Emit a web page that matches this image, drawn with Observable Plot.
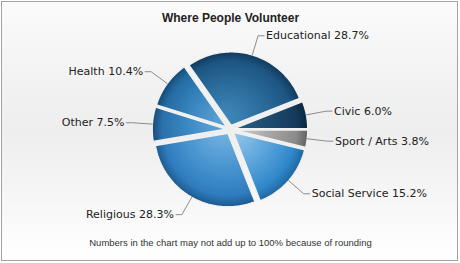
<!DOCTYPE html>
<html><head><meta charset="utf-8">
<script src="https://cdn.jsdelivr.net/npm/d3@7"></script>
<script src="https://cdn.jsdelivr.net/npm/@observablehq/plot@0.6"></script>
<style>
html,body{margin:0;padding:0;background:#fff;}
#wrap{position:relative;width:460px;height:263px;overflow:hidden;}
#frame{position:absolute;left:1px;top:1px;width:455px;height:258px;border:1px solid #a3a3a3;
  background:linear-gradient(to bottom,#fbfbfb 0%,#f1f1f1 35%,#eeeeee 50%,#f6f6f6 75%,#ffffff 100%);}
#chart{position:absolute;left:0;top:0;}
#chart svg{background:transparent;}
</style></head><body>
<div id="wrap"><div id="frame"></div><div id="chart"></div></div>
<script>
// ---- data (clockwise from 3 o'clock) ----
const title = "Where People Volunteer";
const caption = "Numbers in the chart may not add up to 100% because of rounding";
const categories = ["Sport / Arts", "Social Service", "Religious", "Other", "Health", "Educational", "Civic"];
const values = [3.8, 15.2, 28.3, 7.5, 10.4, 28.7, 6.0];

// ---- styles ----
const lightColors = ["#dcdcdc", "#a8d2ef", "#7cb8e4", "#62a5d8", "#5ca2d4", "#4089bb", "#2c628c"];
const midColors   = ["#a9a9a9", "#62a8dd", "#4b96d1", "#3b87c2", "#3784bd", "#2b6c9c", "#1e4c71"];
const baseColors  = ["#8a8a8a", "#3088ca", "#2f7cbe", "#2a70a9", "#246ba1", "#1d5582", "#153b5c"];
const darkColors  = ["#626262", "#1f67a1", "#1c5a8f", "#174c78", "#154a75", "#10395a", "#0b2640"];

const W = 460, H = 263, CX = 229.5, CY = 129;
const R = 73.5, EXPLODE = 4.3, LEADER = 20, TAIL = 6, GAP = 2;

const arcs = d3.pie().sort(null).startAngle(Math.PI / 2).endAngle(Math.PI / 2 + 2 * Math.PI)(values);

const slices = arcs.map((a, i) => {
  const m = (a.startAngle + a.endAngle) / 2;
  const dx = Math.sin(m), dy = -Math.cos(m);
  const ox = EXPLODE * dx, oy = EXPLODE * dy;
  const n = Math.max(2, Math.ceil((a.endAngle - a.startAngle) / (Math.PI / 180)));
  const pts = [{x: ox, y: oy}];
  for (let j = 0; j <= n; j++) {
    const t = a.startAngle + (a.endAngle - a.startAngle) * j / n;
    pts.push({x: ox + R * Math.sin(t), y: oy - R * Math.cos(t)});
  }
  pts.push({x: ox, y: oy});
  const side = dx >= 0 ? 1 : -1;
  const rim = {x: ox + R * dx, y: oy + R * dy};
  const elbow = {x: ox + (R + LEADER) * dx, y: oy + (R + LEADER) * dy};
  const tail = {x: elbow.x + side * TAIL, y: elbow.y};
  return {i, name: categories[i], value: values[i], ox, oy, pts,
    leader: [rim, elbow, tail].map(p => ({...p, k: i})),
    label: {x: tail.x + side * GAP, y: tail.y, side, text: `${categories[i]} ${values[i].toFixed(1)}%`}};
});

const labels = slices.map(s => s.label);
const leaders = slices.flatMap(s => s.leader);
const labelFont = {fontFamily: "DejaVu Sans, Verdana, sans-serif", fontSize: 11, fill: "#222"};

const chart = Plot.plot({
  width: W, height: H, margin: 0,
  style: {background: "transparent", overflow: "visible"},
  x: {domain: [-CX, W - CX], range: [0, W], axis: null},
  y: {domain: [-CY, H - CY], range: [0, H], axis: null},
  marks: [
    ...slices.map(s => Plot.line(s.pts, {x: "x", y: "y", fill: `url(#slice-grad-${s.i})`,
      stroke: "#f1f1f1", strokeWidth: 1.4, strokeLinejoin: "miter", curve: "linear"})),
    Plot.line(leaders, {x: "x", y: "y", z: "k", stroke: "#8c8c8c", strokeWidth: 1}),
    Plot.text(labels.filter(d => d.side > 0), {x: "x", y: "y", text: "text", textAnchor: "start", ...labelFont}),
    Plot.text(labels.filter(d => d.side < 0), {x: "x", y: "y", text: "text", textAnchor: "end", ...labelFont}),
    Plot.text([title], {frameAnchor: "top", dy: 13, fontFamily: "Liberation Sans, Arial, sans-serif",
      fontSize: 12, fontWeight: "bold", fill: "#222"}),
    Plot.text([caption], {frameAnchor: "bottom", dy: -18, fontFamily: "Liberation Sans, Arial, sans-serif",
      fontSize: 9.5, fill: "#333"})
  ]
});

// radial gradient per slice, centered at its exploded apex
const sx = chart.scale("x"), sy = chart.scale("y");
const svg = d3.select(chart);
const defs = svg.insert("defs", ":first-child");
slices.forEach(s => {
  const cx = sx.apply(s.ox), cy = sy.apply(s.oy);
  const g = defs.append("radialGradient").attr("id", `slice-grad-${s.i}`)
    .attr("gradientUnits", "userSpaceOnUse")
    .attr("cx", cx).attr("cy", cy).attr("r", R)
    .attr("fx", cx - 6).attr("fy", cy - 8);
  [[0, lightColors], [0.5, midColors], [0.86, baseColors], [1, darkColors]].forEach(([o, c]) =>
    g.append("stop").attr("offset", o).attr("stop-color", c[s.i]));
});

document.getElementById("chart").append(chart);
</script>
</body></html>
